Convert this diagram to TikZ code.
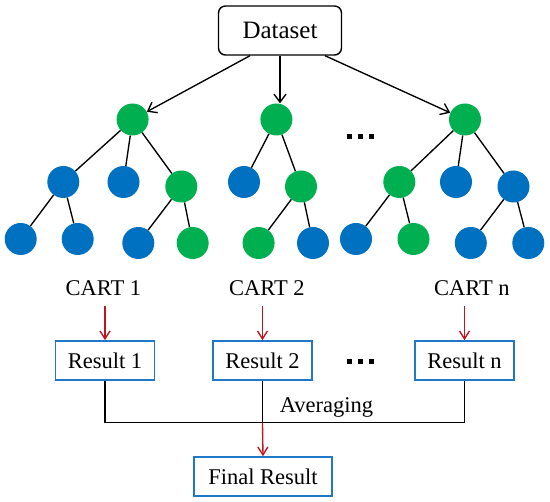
\documentclass[tikz,border=0pt]{standalone}
\usepackage{fontspec}
\setmainfont{Liberation Serif}
\usetikzlibrary{arrows.meta,calc}
\definecolor{gnode}{HTML}{00B050}
\definecolor{bnode}{HTML}{0070C0}
\definecolor{bbox}{HTML}{1F78C8}
\definecolor{rarrow}{HTML}{C0141E}
\tikzset{
  gn/.style={circle,fill=gnode,minimum size=32pt,inner sep=0pt},
  bn/.style={circle,fill=bnode,minimum size=32pt,inner sep=0pt},
  edge/.style={line width=1.35pt,black},
  blk/.style={line width=1.35pt,black,-{Straight Barb[length=8pt,width=12pt,line width=1.35pt]}},
  redarr/.style={line width=1.35pt,rarrow,-{Straight Barb[length=8pt,width=10pt,line width=1.35pt]}},
  resbox/.style={draw=bbox,line width=1.6pt,minimum width=99pt,minimum height=39pt,inner sep=0pt,font=\fontsize{22.5}{26}\selectfont},
  lbl/.style={font=\fontsize{22.5}{26}\selectfont,anchor=base,inner sep=0pt},
  dot/.style={fill=black,minimum size=5pt,inner sep=0pt,rectangle}
}
\begin{document}
\begin{tikzpicture}[x=1pt,y=-1pt]
\useasboundingbox (0,0) rectangle (550,502);
% Dataset
\node[draw,line width=1.4pt,rounded corners=7pt,minimum width=123pt,minimum height=49pt,inner sep=0pt,font=\fontsize{25}{29}\selectfont] (ds) at (280,30.5) {Dataset};
% tree 1
\node[gn] (r1) at (132.6,119.5) {};
\node[bn] (a1) at (63.3,182) {};
\node[bn] (a2) at (123.5,182) {};
\node[gn] (a3) at (181.3,186.5) {};
\node[bn] (a11) at (20.7,239) {};
\node[bn] (a12) at (77.7,239) {};
\node[bn] (a31) at (138.3,243) {};
\node[gn] (a32) at (192.7,243) {};
% tree 2
\node[gn] (r2) at (276.4,119.5) {};
\node[bn] (b1) at (244,182) {};
\node[gn] (b2) at (301,186.5) {};
\node[gn] (b21) at (258.6,243) {};
\node[bn] (b22) at (313,243) {};
% tree 3
\node[gn] (r3) at (465,119.5) {};
\node[gn] (c1) at (399.3,182) {};
\node[bn] (c2) at (456,182) {};
\node[bn] (c3) at (513.5,186.5) {};
\node[bn] (c11) at (356,239) {};
\node[gn] (c12) at (413.5,239) {};
\node[bn] (c31) at (470.8,243) {};
\node[bn] (c32) at (528.3,243) {};
% tree edges
\draw[edge] (r1) -- (a1) (r1) -- (a2) (r1) -- (a3)
  (a1) -- (a11) (a1) -- (a12) (a3) -- (a31) (a3) -- (a32);
\draw[edge] (r2) -- (b1) (r2) -- (b2) (b2) -- (b21) (b2) -- (b22);
\draw[edge] (r3) -- (c1) (r3) -- (c2) (r3) -- (c3)
  (c1) -- (c11) (c1) -- (c12) (c3) -- (c31) (c3) -- (c32);
% dataset arrows
\coordinate (dl) at ($(ds.south)+(-30,0)$);
\coordinate (dr) at ($(ds.south)+(45,0)$);
\draw[blk] (dl) -- (r1);
\draw[blk] (ds.south) -- (ds.south |- r2.north);
\draw[blk] (dr) -- (r3);
% top dots
\node[dot] (td1) at (349.5,137) {};
\node[dot] (td2) at (360.5,137) {};
\node[dot] (td3) at (371.5,137) {};
% CART labels
\node[lbl] (cart1) at (103.5,296) {CART 1};
\node[lbl] (cart2) at (267,296) {CART 2};
\node[lbl] (cartn) at (472,296) {CART n};
% results
\node[resbox] (res1) at (105,360.5) {Result 1};
\node[resbox] (res2) at (262.5,360.5) {Result 2};
\node[resbox] (resn) at (464.5,360.5) {Result n};
\node[dot] (bd1) at (349.5,362) {};
\node[dot] (bd2) at (360.5,362) {};
\node[dot] (bd3) at (371.5,362) {};
\coordinate (s1) at (105,306.5);
\coordinate (s2) at (262.5,306.5);
\coordinate (sn) at (464.5,306.5);
\draw[redarr] (s1) -- (res1.north);
\draw[redarr] (s2) -- (res2.north);
\draw[redarr] (sn) -- (resn.north);
% averaging
\coordinate (j) at (262.5,422.7);
\draw[edge] (res1.south) -- (res1.south |- j) -- (resn.south |- j) -- (resn.south);
\draw[edge] (res2.south) -- (j);
\node[lbl] (avg) at (326.4,412.7) {Averaging};
\node[resbox,minimum width=137.5pt] (fin) at (263,476.5) {Final Result};
\draw[redarr] (j) -- (fin.north);
\end{tikzpicture}
\end{document}
